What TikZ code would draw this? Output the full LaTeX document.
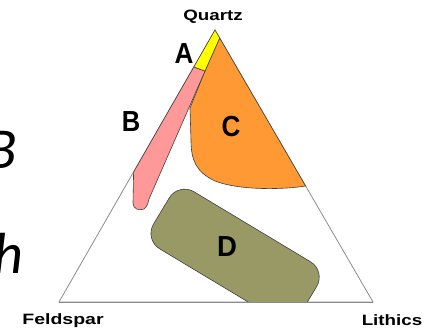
\documentclass[tikz,border=0pt]{standalone}
\usepackage{fontspec}
\setmainfont{Liberation Sans}
\newfontfamily\slidefont{Carlito}
\definecolor{zoneA}{HTML}{FFFF00}
\definecolor{zoneB}{HTML}{FF9999}
\definecolor{zoneC}{HTML}{FF9933}
\definecolor{zoneD}{HTML}{999966}
\definecolor{edgegray}{HTML}{8C8C8C}
\tikzset{
  zone/.style={draw=black!75, line width=0.6pt},
  axislabel/.style={inner sep=0pt, font=\fontsize{15}{15}\selectfont\bfseries},
  zonelabel/.style={inner sep=0pt, font=\fontsize{29}{29}\selectfont\bfseries},
  slidetext/.style={inner sep=0pt, anchor=base east, font=\fontsize{58}{58}\selectfont\slidefont\itshape},
  triedge/.style={draw=edgegray, line width=0.8pt}
}
\begin{document}
\begin{tikzpicture}[x=1pt,y=-1pt]
\clip (0,0) rectangle (428,333);
\fill[white] (0,0) rectangle (428,333);
% triangle corners
\coordinate (Q) at (215,30);
\coordinate (F) at (59,302);
\coordinate (L) at (373,302);
% cut-off slide text at left
\node[slidetext] (sb) at (17,168) {B};
\node[slidetext] (sh) at (24,273) {h};
% triangle
\draw[triedge] (F) -- (Q) -- (L) -- cycle;
% zone D, clipped to the triangle
\begin{scope}
\clip (F) -- (Q) -- (L) -- cycle;
\begin{scope}[shift={(235.1,255.3)}, rotate=-31]
\draw[zone, fill=zoneD, rounded corners=18pt] (-86,-33.3) rectangle (86,33.3);
\end{scope}
\end{scope}
\draw[triedge] (F) -- (L);
% zone C
\draw[zone, fill=zoneC] (219.7,38) -- (305.6,186)
  .. controls (280,190) and (238,190) .. (215,181)
  .. controls (196,172) and (191,160) .. (191,140)
  -- (190,108) -- (205,71) -- cycle;
% zone B
\draw[zone, fill=zoneB] (193.8,67) -- (133.6,172) -- (133,203)
  .. controls (133,209) and (139,211) .. (144,209)
  .. controls (147,207) and (148,203) .. (149,199)
  -- (205,71) -- cycle;
% zone A
\draw[zone, fill=zoneA] (215,30) -- (219.7,38) -- (205,71) -- (193.8,67) -- cycle;
% labels
\node[axislabel] (lq) at (213,17) {\scalebox{1.25}[1]{Quartz}};
\node[axislabel] (lf) at (63,321) {\scalebox{1.3}[1]{Feldspar}};
\node[axislabel] (ll) at (392,320) {\scalebox{1.25}[1]{Lithics}};
\node[zonelabel] (la) at (184,54) {\scalebox{0.9}[1]{A}};
\node[zonelabel] (lb) at (131,122) {\scalebox{0.88}[1]{B}};
\node[zonelabel] (lc) at (231,127) {\scalebox{0.9}[1]{C}};
\node[zonelabel] (ld) at (227,247) {\scalebox{0.95}[1]{D}};
\end{tikzpicture}
\end{document}
